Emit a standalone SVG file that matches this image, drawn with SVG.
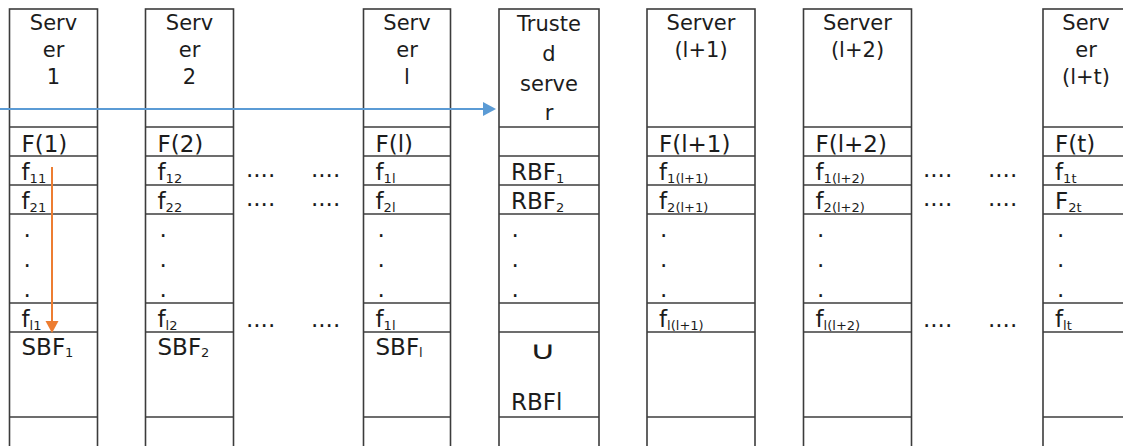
<svg xmlns="http://www.w3.org/2000/svg" width="1123" height="446" viewBox="0 0 1123 446">
  <style>
    .box { fill: #ffffff; stroke: #3c3c3c; stroke-width: 1.6; }
    .row { stroke: #3c3c3c; stroke-width: 1.6; }
    text { font-family: "DejaVu Sans", "Liberation Sans", sans-serif; fill: #1c1c1c; }
    .hd { font-size: 21px; text-anchor: middle; }
    .lb { font-size: 23px; }
    .sub { font-size: 13px; }
    .dot { font-size: 23px; }
    .cup { font-size: 25px; text-anchor: middle; }
    .blue { stroke: #5b9bd5; stroke-width: 2; fill: none; }
    .orange { stroke: #ed7d31; stroke-width: 2; fill: none; }
  </style>
  <defs>
    <!-- row separators shared by every column, one set per column width -->
    <g id="rows88">
      <line class="row" x1="0" y1="127" x2="88" y2="127"/>
      <line class="row" x1="0" y1="156" x2="88" y2="156"/>
      <line class="row" x1="0" y1="185" x2="88" y2="185"/>
      <line class="row" x1="0" y1="214" x2="88" y2="214"/>
      <line class="row" x1="0" y1="303" x2="88" y2="303"/>
      <line class="row" x1="0" y1="332" x2="88" y2="332"/>
      <line class="row" x1="0" y1="417" x2="88" y2="417"/>
    </g>
    <g id="rows100">
      <line class="row" x1="0" y1="127" x2="100" y2="127"/>
      <line class="row" x1="0" y1="156" x2="100" y2="156"/>
      <line class="row" x1="0" y1="185" x2="100" y2="185"/>
      <line class="row" x1="0" y1="214" x2="100" y2="214"/>
      <line class="row" x1="0" y1="303" x2="100" y2="303"/>
      <line class="row" x1="0" y1="332" x2="100" y2="332"/>
      <line class="row" x1="0" y1="417" x2="100" y2="417"/>
    </g>
    <g id="rows108">
      <line class="row" x1="0" y1="127" x2="108" y2="127"/>
      <line class="row" x1="0" y1="156" x2="108" y2="156"/>
      <line class="row" x1="0" y1="185" x2="108" y2="185"/>
      <line class="row" x1="0" y1="214" x2="108" y2="214"/>
      <line class="row" x1="0" y1="303" x2="108" y2="303"/>
      <line class="row" x1="0" y1="332" x2="108" y2="332"/>
      <line class="row" x1="0" y1="417" x2="108" y2="417"/>
    </g>
    <!-- vertical ellipsis inside a column -->
    <g id="vdots">
      <text class="dot" x="0" y="236.5">.</text>
      <text class="dot" x="0" y="266.5">.</text>
      <text class="dot" x="0" y="296.5">.</text>
    </g>
  </defs>

  <rect width="1123" height="446" fill="#ffffff"/>

  <!-- Server 1 -->
  <g id="server1">
    <rect class="box" x="9.5" y="9" width="88" height="445"/>
    <use href="#rows88" x="9.5"/>
    <text class="hd" x="53.5" y="29.5">Serv</text>
    <text class="hd" x="53.5" y="56.5">er</text>
    <text class="hd" x="53.5" y="83.5">1</text>
    <text class="lb" x="21.5" y="152">F(1)</text>
    <text class="lb" x="21.5" y="180">f<tspan class="sub" dy="3">11</tspan></text>
    <text class="lb" x="21.5" y="209">f<tspan class="sub" dy="3">21</tspan></text>
    <use href="#vdots" x="23.5"/>
    <text class="lb" x="21.5" y="327">f<tspan class="sub" dy="3">l1</tspan></text>
    <text class="lb" x="21.5" y="355">SBF<tspan class="sub" dy="2">1</tspan></text>
  </g>

  <!-- Server 2 -->
  <g id="server2">
    <rect class="box" x="145.5" y="9" width="88" height="445"/>
    <use href="#rows88" x="145.5"/>
    <text class="hd" x="189.5" y="29.5">Serv</text>
    <text class="hd" x="189.5" y="56.5">er</text>
    <text class="hd" x="189.5" y="83.5">2</text>
    <text class="lb" x="157.5" y="152">F(2)</text>
    <text class="lb" x="157.5" y="180">f<tspan class="sub" dy="3">12</tspan></text>
    <text class="lb" x="157.5" y="209">f<tspan class="sub" dy="3">22</tspan></text>
    <use href="#vdots" x="159.5"/>
    <text class="lb" x="157.5" y="327">f<tspan class="sub" dy="3">l2</tspan></text>
    <text class="lb" x="157.5" y="355">SBF<tspan class="sub" dy="2">2</tspan></text>
  </g>

  <!-- Server l -->
  <g id="serverL">
    <rect class="box" x="363.5" y="9" width="87" height="445"/>
    <use href="#rows88" x="363"/>
    <text class="hd" x="407" y="29.5">Serv</text>
    <text class="hd" x="407" y="56.5">er</text>
    <text class="hd" x="407" y="83.5">l</text>
    <text class="lb" x="375.5" y="152">F(l)</text>
    <text class="lb" x="375.5" y="180">f<tspan class="sub" dy="3">1l</tspan></text>
    <text class="lb" x="375.5" y="209">f<tspan class="sub" dy="3">2l</tspan></text>
    <use href="#vdots" x="377.5"/>
    <text class="lb" x="375.5" y="327">f<tspan class="sub" dy="3">1l</tspan></text>
    <text class="lb" x="375.5" y="355">SBF<tspan class="sub" dy="2">l</tspan></text>
  </g>

  <!-- Trusted server -->
  <g id="trusted">
    <rect class="box" x="499" y="9" width="100" height="445"/>
    <use href="#rows100" x="499"/>
    <text class="hd" x="549" y="31">Truste</text>
    <text class="hd" x="549" y="61">d</text>
    <text class="hd" x="549" y="91">serve</text>
    <text class="hd" x="549" y="120">r</text>
    <text class="lb" x="511" y="180">RBF<tspan class="sub" dy="3">1</tspan></text>
    <text class="lb" x="511" y="209">RBF<tspan class="sub" dy="3">2</tspan></text>
    <use href="#vdots" x="511.5"/>
    <!-- union sign, widened to the flatter cup shape -->
    <text class="cup" transform="translate(543 359) scale(1.45 1)" x="0" y="0">∪</text>
    <text class="lb" x="511" y="410">RBFl</text>
  </g>

  <!-- Server (l+1) -->
  <g id="serverL1">
    <rect class="box" x="647" y="9" width="108" height="445"/>
    <use href="#rows108" x="647"/>
    <text class="hd" x="701" y="29.5">Server</text>
    <text class="hd" x="701" y="56.5">(l+1)</text>
    <text class="lb" x="659" y="152">F(l+1)</text>
    <text class="lb" x="659" y="180">f<tspan class="sub" dy="3">1(l+1)</tspan></text>
    <text class="lb" x="659" y="209">f<tspan class="sub" dy="3">2(l+1)</tspan></text>
    <use href="#vdots" x="660"/>
    <text class="lb" x="659" y="327">f<tspan class="sub" dy="3">l(l+1)</tspan></text>
  </g>

  <!-- Server (l+2) -->
  <g id="serverL2">
    <rect class="box" x="803.5" y="9" width="108" height="445"/>
    <use href="#rows108" x="803.5"/>
    <text class="hd" x="857.5" y="29.5">Server</text>
    <text class="hd" x="857.5" y="56.5">(l+2)</text>
    <text class="lb" x="815.5" y="152">F(l+2)</text>
    <text class="lb" x="815.5" y="180">f<tspan class="sub" dy="3">1(l+2)</tspan></text>
    <text class="lb" x="815.5" y="209">f<tspan class="sub" dy="3">2(l+2)</tspan></text>
    <use href="#vdots" x="817"/>
    <text class="lb" x="815.5" y="327">f<tspan class="sub" dy="3">l(l+2)</tspan></text>
  </g>

  <!-- Server (l+t) -->
  <g id="serverLt">
    <rect class="box" x="1043" y="9" width="88" height="445"/>
    <use href="#rows88" x="1043"/>
    <text class="hd" x="1086" y="29.5">Serv</text>
    <text class="hd" x="1086" y="56.5">er</text>
    <text class="hd" x="1086" y="83.5">(l+t)</text>
    <text class="lb" x="1055" y="152">F(t)</text>
    <text class="lb" x="1055" y="180">f<tspan class="sub" dy="3">1t</tspan></text>
    <text class="lb" x="1055" y="209">F<tspan class="sub" dy="3">2t</tspan></text>
    <use href="#vdots" x="1057"/>
    <text class="lb" x="1055" y="327">f<tspan class="sub" dy="3">lt</tspan></text>
  </g>

  <!-- horizontal ellipses between the column groups -->
  <g id="ellipses">
    <text class="dot" x="246" y="177">....</text>
    <text class="dot" x="311" y="177">....</text>
    <text class="dot" x="246" y="206">....</text>
    <text class="dot" x="311" y="206">....</text>
    <text class="dot" x="246" y="326.5">....</text>
    <text class="dot" x="311" y="326.5">....</text>
    <text class="dot" x="923" y="177">....</text>
    <text class="dot" x="988" y="177">....</text>
    <text class="dot" x="923" y="206">....</text>
    <text class="dot" x="988" y="206">....</text>
    <text class="dot" x="923" y="326.5">....</text>
    <text class="dot" x="988" y="326.5">....</text>
  </g>

  <!-- connectors -->
  <g id="connectors">
    <line class="blue" x1="0" y1="109" x2="484" y2="109"/>
    <polygon points="483,102 496,109 483,116" fill="#5b9bd5"/>
    <line class="orange" x1="52" y1="167" x2="52" y2="322"/>
    <polygon points="45.5,321 52,333 58.5,321" fill="#ed7d31"/>
  </g>
</svg>
